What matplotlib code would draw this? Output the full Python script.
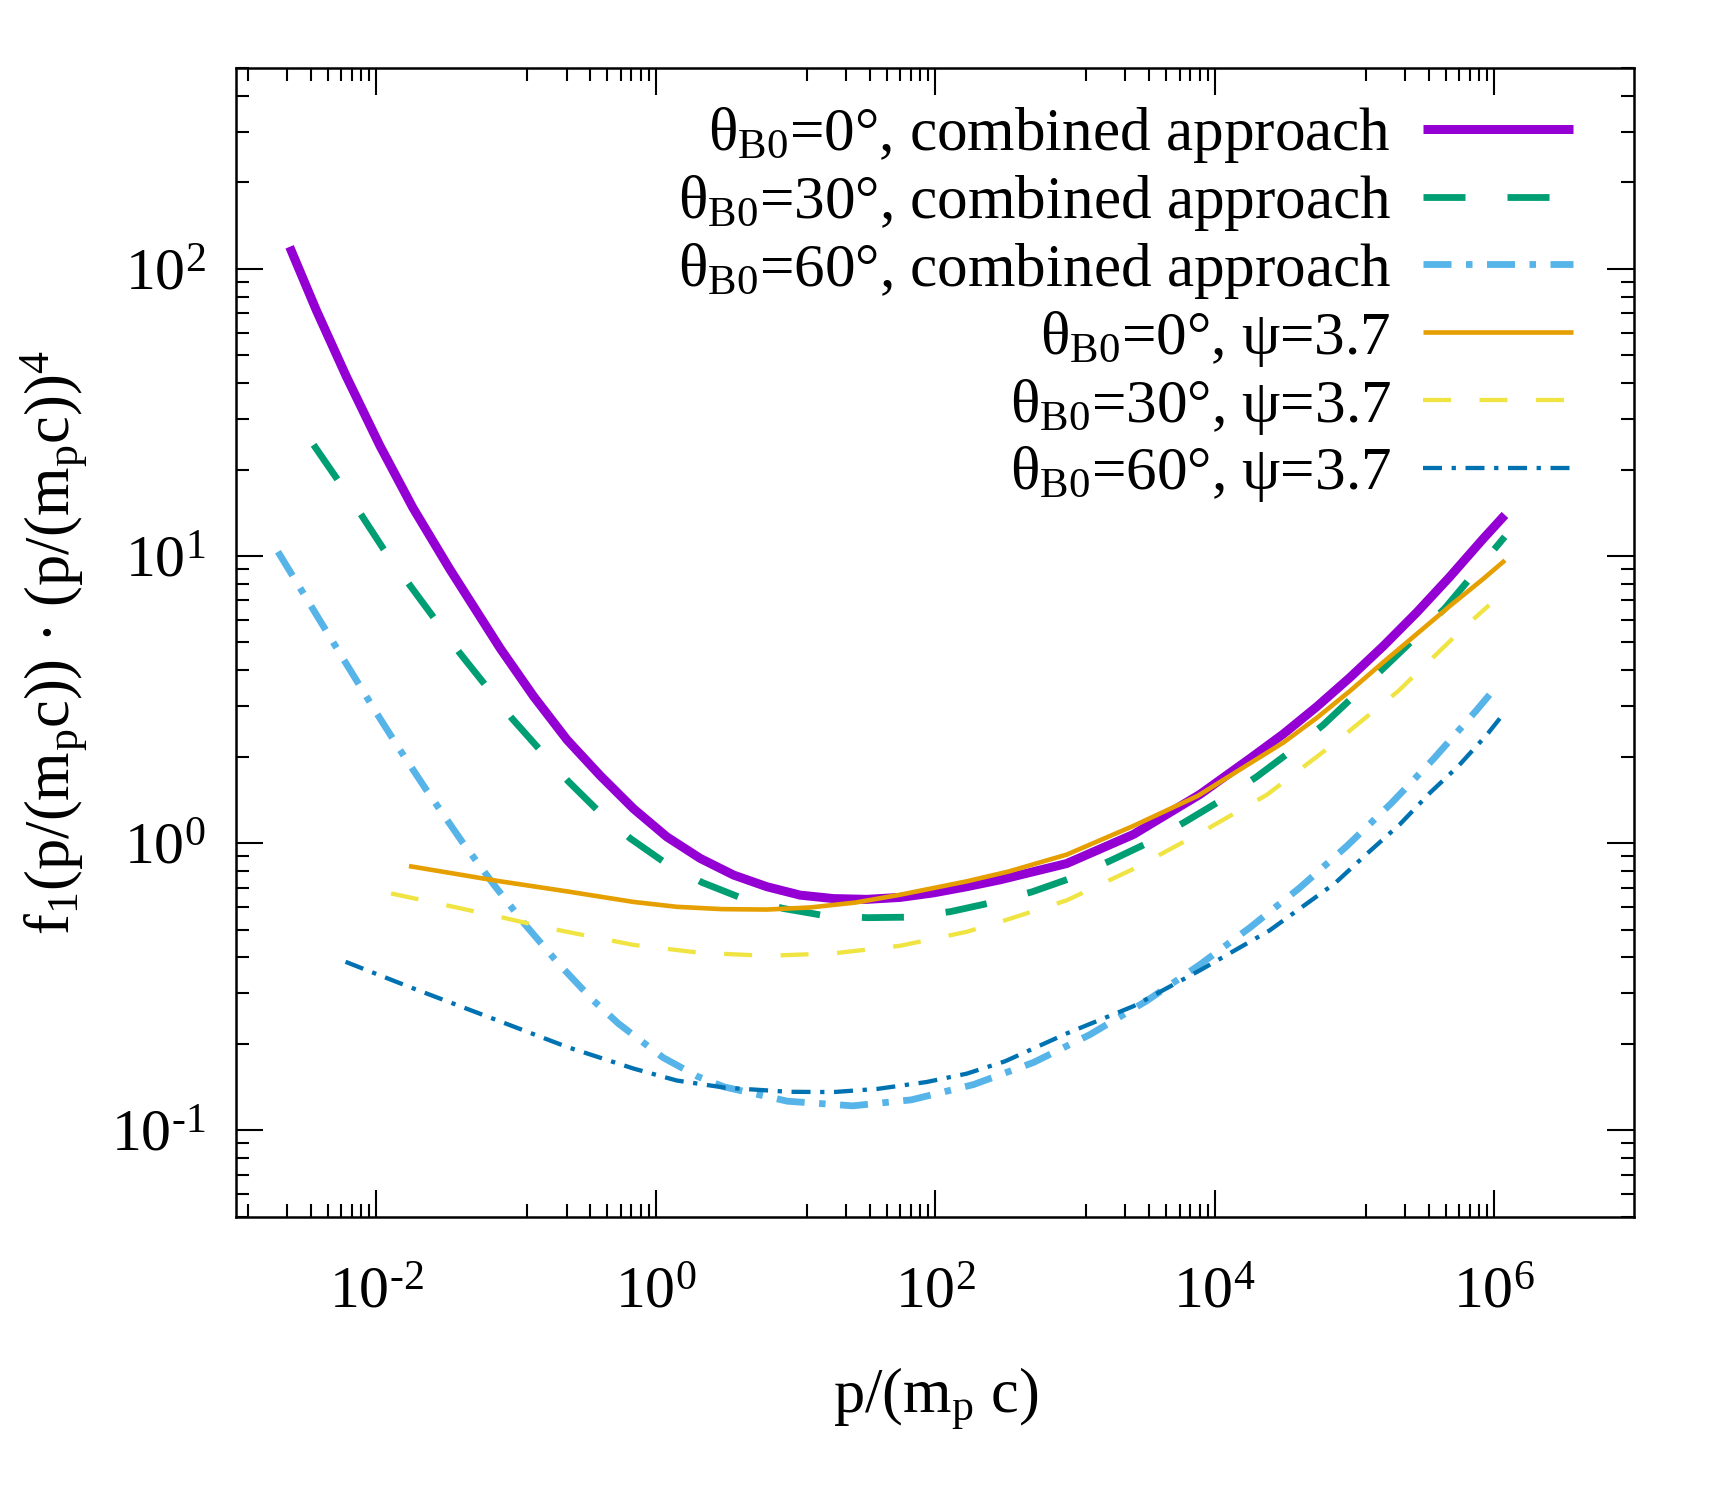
import numpy as np
import matplotlib
matplotlib.use('Agg')
import matplotlib.pyplot as plt
from matplotlib.ticker import FixedLocator, LogLocator, NullFormatter, FixedFormatter

plt.rcParams['font.family'] = ['Liberation Serif', 'DejaVu Serif']
plt.rcParams['mathtext.fontset'] = 'custom'
plt.rcParams['mathtext.rm'] = 'Liberation Serif'
plt.rcParams['mathtext.it'] = 'Liberation Serif:italic'
plt.rcParams['mathtext.bf'] = 'Liberation Serif:bold'
plt.rcParams['axes.unicode_minus'] = False
plt.rcParams['lines.scale_dashes'] = False

# ---------------- data ----------------
p_th0_comb = [2.40e-3, 3.72e-3, 6.11e-3, 1.06e-2, 1.83e-2, 3.35e-2, 7.73e-2, 0.134, 0.232, 0.401,
              0.693, 1.20, 2.08, 3.61, 6.24, 10.8, 18.7, 32.4, 56.1, 97.1,
              168, 291, 873, 2620, 7850, 17910, 30970, 53700, 92900, 1.607e5,
              2.786e5, 4.82e5, 8.337e5, 1.194e6]
f_th0_comb = [119.4, 71.9, 42.2, 24.27, 14.72, 9.02, 4.76, 3.24, 2.29, 1.718,
              1.318, 1.052, 0.885, 0.774, 0.705, 0.659, 0.641, 0.637, 0.647, 0.671,
              0.705, 0.745, 0.849, 1.072, 1.479, 1.972, 2.399, 2.985, 3.776, 4.853,
              6.353, 8.472, 11.48, 13.90]

p_th30_comb = [3.56e-3, 5.19e-3, 7.82e-3, 1.119e-2, 1.734e-2, 2.55e-2, 3.95e-2, 5.96e-2, 9.35e-2, 0.145,
               0.238, 0.379, 0.658, 1.14, 2.14, 3.91, 8.20, 15.5, 32.4, 61.0,
               128, 240, 491, 923, 1780, 3270, 6140, 10900, 19950, 34600,
               59800, 1.65e5, 2.71e5, 4.44e5, 6.89e5, 1.19e6]
f_th30_comb = [24.4, 18.7, 13.9, 10.64, 7.93, 6.15, 4.60, 3.58, 2.72, 2.14,
               1.637, 1.309, 1.038, 0.861, 0.730, 0.650, 0.592, 0.561, 0.550, 0.552,
               0.577, 0.617, 0.676, 0.753, 0.867, 0.998, 1.186, 1.403, 1.702, 2.08,
               2.58, 4.11, 5.18, 6.58, 8.49, 11.67]

p_th60_comb = [1.98e-3, 3.16e-3, 5.78e-3, 1.0e-2, 1.48e-2, 2.30e-2, 4.13e-2, 6.92e-2, 0.116, 0.200,
               0.355, 0.542, 1.13, 2.00, 3.08, 8.77, 25.7, 67.6, 188, 505,
               1280, 3270, 7850, 17900, 40700, 87900, 1.845e5, 3.66e5, 7.48e5, 1.04e6]
f_th60_comb = [10.35, 7.13, 4.40, 2.85, 2.11, 1.524, 1.009, 0.718, 0.521, 0.382,
               0.284, 0.235, 0.179, 0.1538, 0.1416, 0.1262, 0.1216, 0.1276, 0.1442, 0.1722,
               0.2153, 0.2825, 0.3776, 0.5082, 0.6998, 0.975, 1.380, 1.959, 2.904, 3.516]

p_th0_psi = [1.714e-2, 7.46e-2, 0.232, 0.693, 1.413, 2.98, 6.24, 12.8, 26.9, 56.1,
             168, 334, 873, 2620, 7590, 17910, 30970, 53700, 92900, 1.607e5,
             2.786e5, 4.82e5, 8.337e5, 1.194e6]
f_th0_psi = [0.832, 0.738, 0.679, 0.624, 0.600, 0.589, 0.587, 0.597, 0.621, 0.661,
             0.736, 0.796, 0.912, 1.148, 1.462, 1.897, 2.239, 2.729, 3.388, 4.266,
             5.346, 6.699, 8.318, 9.66]

p_th30_psi = [1.276e-2, 3.57e-2, 7.73e-2, 0.155, 0.232, 0.693, 2.08, 6.24, 18.7, 56.1,
              168, 334, 873, 2620, 7850, 23550, 68550, 2.061e5, 6.00e5, 9.20e5]
f_th30_psi = [0.668, 0.600, 0.553, 0.511, 0.491, 0.442, 0.415, 0.405, 0.413, 0.439,
              0.491, 0.543, 0.632, 0.813, 1.084, 1.472, 2.188, 3.388, 5.598, 6.745]

p_th60_psi = [6.03e-3, 1.714e-2, 7.59e-2, 0.232, 0.693, 1.413, 3.16, 8.91, 18.7, 38.6,
              86.7, 168, 316, 873, 2620, 7850, 24550, 72440, 1.222e5, 2.118e5,
              3.467e5, 5.534e5, 8.913e5, 1.13e6]
f_th60_psi = [0.386, 0.316, 0.240, 0.195, 0.164, 0.149, 0.1406, 0.1361, 0.1358, 0.1393,
              0.1472, 0.1574, 0.1738, 0.2173, 0.2704, 0.3606, 0.4955, 0.7244, 0.9162, 1.164,
              1.496, 1.854, 2.393, 2.767]

labels = [
    r'θ$_{\mathregular{B0}}$=0°, combined approach',
    r'θ$_{\mathregular{B0}}$=30°, combined approach',
    r'θ$_{\mathregular{B0}}$=60°, combined approach',
    r'θ$_{\mathregular{B0}}$=0°, ψ=3.7',
    r'θ$_{\mathregular{B0}}$=30°, ψ=3.7',
    r'θ$_{\mathregular{B0}}$=60°, ψ=3.7',
]
x_major_exponents = [-2, 0, 2, 4, 6]
x_tick_labels = ['10$^{\\mathregular{\u20102}}$', '10$^{\\mathregular{0}}$', '10$^{\\mathregular{2}}$',
                 '10$^{\\mathregular{4}}$', '10$^{\\mathregular{6}}$']
y_major_exponents = [-1, 0, 1, 2]
y_tick_labels = ['10$^{\\mathregular{\u20101}}$', '10$^{\\mathregular{0}}$', '10$^{\\mathregular{1}}$',
                 '10$^{\\mathregular{2}}$']

# ---------------- styling ----------------
px = 0.72  # points per pixel at dpi 100
styles = [
    dict(color='#9400D3', lw=9 * px, ls='-'),
    dict(color='#009E73', lw=6.8 * px, ls=(0, (42 * px, 42 * px))),
    dict(color='#56B4E9', lw=6.8 * px, ls=(0, (28 * px, 14.5 * px, 6.5 * px, 14.5 * px))),
    dict(color='#E69F00', lw=4.6 * px, ls='-'),
    dict(color='#F0E442', lw=4.3 * px, ls=(0, (28 * px, 28.5 * px))),
    dict(color='#0072B2', lw=4.3 * px, ls=(0, (19 * px, 9.6 * px, 4.3 * px, 9.6 * px))),
]
series = [(p_th0_comb, f_th0_comb), (p_th30_comb, f_th30_comb), (p_th60_comb, f_th60_comb),
          (p_th0_psi, f_th0_psi), (p_th30_psi, f_th30_psi), (p_th60_psi, f_th60_psi)]

fig = plt.figure(figsize=(17.25, 15), dpi=100)
ax = fig.add_axes([0.1371, 0.1889, 0.8101, 0.7656])

for (xs, ys), st, lab in zip(series, styles, labels):
    ax.plot(xs, ys, color=st['color'], lw=st['lw'], ls=st['ls'], label=lab,
            solid_capstyle='butt', dash_capstyle='butt', solid_joinstyle='round')

ax.set_xscale('log')
ax.set_yscale('log')
ax.set_xlim(1e-3, 1e7)
ax.set_ylim(0.05, 500)

# x ticks: majors every two decades, gnuplot-like linear minor ticks inside each interval
xmaj = [10.0 ** e for e in x_major_exponents]
ax.xaxis.set_major_locator(FixedLocator(xmaj))
ax.xaxis.set_major_formatter(FixedFormatter(x_tick_labels))
xmin = []
for e in range(-4, 8, 2):
    lo, hi = 10.0 ** e, 10.0 ** (e + 2)
    for j in range(1, 9):
        v = lo + j * (hi - lo) / 9
        if 1e-3 < v < 1e7:
            xmin.append(v)
ax.xaxis.set_minor_locator(FixedLocator(xmin))
ax.xaxis.set_minor_formatter(NullFormatter())

ymaj = [10.0 ** e for e in y_major_exponents]
ax.yaxis.set_major_locator(FixedLocator(ymaj))
ax.yaxis.set_major_formatter(FixedFormatter(y_tick_labels))
ax.yaxis.set_minor_locator(LogLocator(base=10, subs=np.arange(2, 10), numticks=20))
ax.yaxis.set_minor_formatter(NullFormatter())

ax.tick_params(which='both', direction='in', top=True, right=True, width=1.5, colors='black')
ax.tick_params(which='major', length=19.5)
ax.tick_params(which='minor', length=9.5)
ax.tick_params(axis='x', which='major', labelsize=43, pad=36)
ax.tick_params(axis='y', which='major', labelsize=43, pad=22)
for s in ax.spines.values():
    s.set_linewidth(1.8)

ax.set_xlabel(r'p/(m$_{\mathregular{p}}$ c)', fontsize=45, labelpad=32)
ax.set_ylabel(r'f$_{\mathregular{1}}$(p/(m$_{\mathregular{p}}$c)) · (p/(m$_{\mathregular{p}}$c))$^{\mathregular{4}}$',
              fontsize=45, labelpad=16)

leg = ax.legend(loc='upper right', bbox_to_anchor=(0.9564, 0.9678), markerfirst=False, frameon=False,
                fontsize=44, handlelength=2.45, handletextpad=0.53, labelspacing=0.128,
                borderpad=0, borderaxespad=0)

fig.savefig('out.png', dpi=100)
